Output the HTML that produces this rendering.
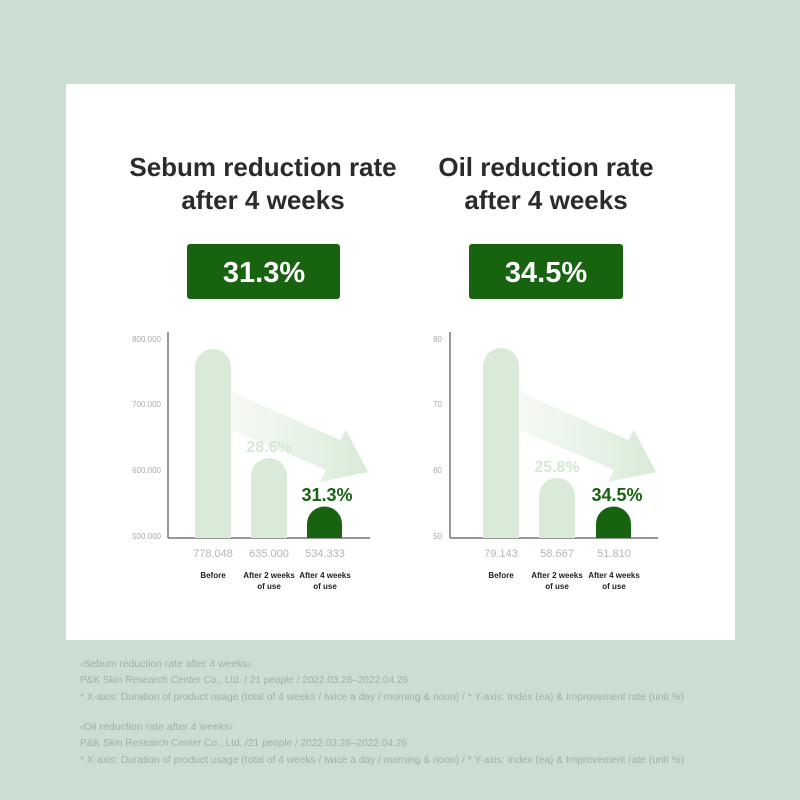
<!DOCTYPE html><html><head><style>body{margin:0;background:#cadfd1;}svg{display:block}</style></head><body>
<svg width="800" height="800" xmlns="http://www.w3.org/2000/svg" font-family="Liberation Sans, sans-serif">
<rect width="800" height="800" fill="#cadfd1"/>
<rect x="66" y="84" width="669" height="556" fill="#fff"/>
<defs><linearGradient id="ag" x1="0" y1="0" x2="1" y2="0"><stop offset="0" stop-color="#e4f1e3" stop-opacity="0.4"/><stop offset="1" stop-color="#d8ead7"/></linearGradient></defs>
<g font-weight="bold" font-size="26" fill="#2b2b2b" text-anchor="middle">
<text x="263" y="176">Sebum reduction rate</text><text x="263" y="209">after 4 weeks</text>
<text x="546" y="176">Oil reduction rate</text><text x="546" y="209">after 4 weeks</text></g>
<rect x="187" y="244" width="153" height="55" rx="3" fill="#17630f"/>
<rect x="469" y="244" width="154" height="55" rx="3" fill="#17630f"/>
<g font-weight="bold" font-size="29" fill="#fff" text-anchor="middle"><text x="264" y="282">31.3%</text><text x="546" y="282">34.5%</text></g>
<g id="c1">
<polygon points="232,392 340,440 346,430 368,472 320,482 326,470 232,430" fill="url(#ag)"/>
<line x1="168" y1="332" x2="168" y2="538" stroke="#777" stroke-width="1.5"/>
<line x1="168" y1="538" x2="370" y2="538" stroke="#777" stroke-width="1.5"/>
<path d="M195,538V367a18,18 0 0 1 36,0V538Z" fill="#d9ebd8"/>
<path d="M251,538V476a18,18 0 0 1 36,0V538Z" fill="#d9ebd8"/>
<path d="M307,538V524a17.5,17.5 0 0 1 35,0V538Z" fill="#17630f"/>
</g>
<g font-size="8" fill="#aaa" text-anchor="end"><text x="161" y="342">800.000</text><text x="161" y="407">700.000</text><text x="161" y="473">600.000</text><text x="161" y="539">500.000</text>
<text x="442" y="342">80</text><text x="442" y="407">70</text><text x="442" y="473">60</text><text x="442" y="539">50</text></g>
<g transform="translate(282,0)">
<polygon points="238,392 346,440 352,430 374,472 326,482 332,470 238,430" fill="url(#ag)"/>
<line x1="168" y1="332" x2="168" y2="538" stroke="#777" stroke-width="1.5"/>
<line x1="168" y1="538" x2="376" y2="538" stroke="#777" stroke-width="1.5"/>
<path d="M201,538V366a18,18 0 0 1 36,0V538Z" fill="#d9ebd8"/>
<path d="M257,538V496a18,18 0 0 1 36,0V538Z" fill="#d9ebd8"/>
<path d="M314,538V524a17.5,17.5 0 0 1 35,0V538Z" fill="#17630f"/>
</g>
<g font-size="16" text-anchor="middle"><text x="269" y="452" fill="#d5e8d3" font-weight="bold">28.6%</text><text x="557" y="472" fill="#d5e8d3" font-weight="bold">25.8%</text>
<text x="327" y="501" fill="#17630f" font-weight="bold" font-size="18">31.3%</text><text x="617" y="501" fill="#17630f" font-weight="bold" font-size="18">34.5%</text></g>
<g font-size="11" fill="#b5b5b5" text-anchor="middle"><text x="213" y="557">778.048</text><text x="269" y="557">635.000</text><text x="325" y="557">534.333</text>
<text x="501" y="557">79.143</text><text x="557" y="557">58.667</text><text x="614" y="557">51.810</text></g>
<g font-size="8" font-weight="bold" fill="#222" text-anchor="middle"><text x="213" y="578">Before</text><text x="269" y="578">After 2 weeks</text><text x="269" y="589">of use</text><text x="325" y="578">After 4 weeks</text><text x="325" y="589">of use</text>
<text x="501" y="578">Before</text><text x="557" y="578">After 2 weeks</text><text x="557" y="589">of use</text><text x="614" y="578">After 4 weeks</text><text x="614" y="589">of use</text></g>
<g font-size="10" fill="#a3aea6" lengthAdjust="spacingAndGlyphs"><text x="80" y="667" textLength="171" lengthAdjust="spacingAndGlyphs">‹Sebum reduction rate after 4 weeks›</text><text x="80" y="683" textLength="328" lengthAdjust="spacingAndGlyphs">P&amp;K Skin Research Center Co., Ltd. / 21 people / 2022.03.28–2022.04.26</text><text x="80" y="700" textLength="604" lengthAdjust="spacingAndGlyphs">* X-axis: Duration of product usage (total of 4 weeks / twice a day / morning &amp; noon) / * Y-axis: Index (ea) &amp; Improvement rate (unit %)</text>
<text x="80" y="730" textLength="153" lengthAdjust="spacingAndGlyphs">‹Oil reduction rate after 4 weeks›</text><text x="80" y="746" textLength="327" lengthAdjust="spacingAndGlyphs">P&amp;K Skin Research Center Co., Ltd. /21 people / 2022.03.28–2022.04.26</text><text x="80" y="763" textLength="604" lengthAdjust="spacingAndGlyphs">* X-axis: Duration of product usage (total of 4 weeks / twice a day / morning &amp; noon) / * Y-axis: Index (ea) &amp; Improvement rate (unit %)</text></g>
</svg></body></html>
